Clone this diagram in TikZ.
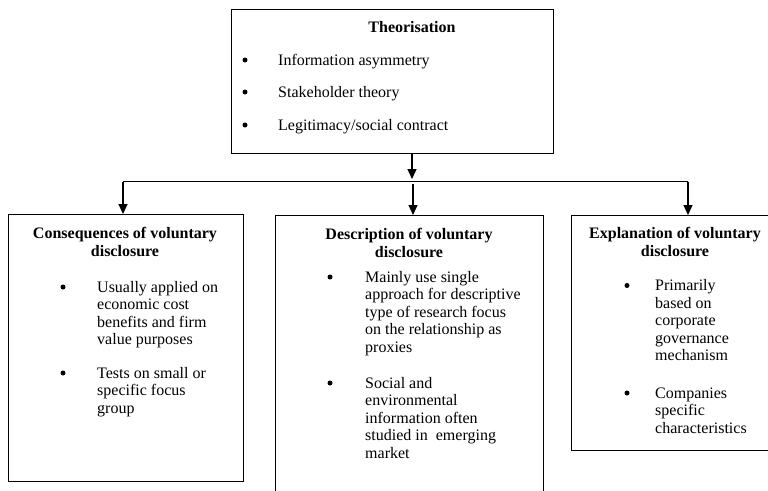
\documentclass[tikz,border=0pt]{standalone}
\usepackage{fontspec}
\setmainfont{Liberation Serif}
\usetikzlibrary{arrows.meta}
\tikzset{
  box/.style={draw, line width=1.3pt, inner sep=0pt, anchor=north west},
  arr/.style={line width=1.2pt, -{Triangle[width=9pt,length=10pt]}},
  bar/.style={line width=1.2pt},
  txt/.style={inner sep=0pt, anchor=base west, font=\fontsize{16}{17.6}\selectfont},
  ttl/.style={inner sep=0pt, anchor=base, font=\fontsize{16}{18.5}\selectfont\bfseries},
  bul/.style={circle, fill, inner sep=0pt, minimum size=5pt, yshift=5pt}
}
\newcommand{\lines}[1]{\parbox[t]{220pt}{\raggedright #1}}
\newcommand{\ttllines}[1]{\begin{tabular}[t]{@{}c@{}}#1\end{tabular}}
\begin{document}
\begin{tikzpicture}[x=1pt,y=-1pt]
\useasboundingbox (0,0) rectangle (768,490);
\clip (0,0) rectangle (768,490);
% boxes
\node[box, minimum width=322pt, minimum height=144pt] (theo) at (231,9) {};
\node[box, minimum width=235pt, minimum height=267pt] (cons) at (7.5,214) {};
\node[box, minimum width=268pt, minimum height=300pt] (desc) at (275,215) {};
\node[box, minimum width=209pt, minimum height=235pt] (expl) at (571,215) {};
% top box text
\node[ttl] (theoT) at (412,32) {Theorisation};
\node[bul] (tb1) at (245,65) {};
\node[txt] (tt1) at (278,65) {Information asymmetry};
\node[bul] (tb2) at (245,97) {};
\node[txt] (tt2) at (278,97) {Stakeholder theory};
\node[bul] (tb3) at (245,130) {};
\node[txt] (tt3) at (278,130) {Legitimacy/social contract};
% left box text
\node[ttl] (consT) at (125,238) {\ttllines{Consequences of voluntary\\disclosure}};
\node[bul] (cb1) at (63,292) {};
\node[txt] (ct1) at (97,292) {\lines{Usually applied on\\economic cost\\benefits and firm\\value purposes}};
\node[bul] (cb2) at (63,378) {};
\node[txt] (ct2) at (97,378) {\lines{Tests on small or\\specific focus\\group}};
% middle box text
\node[ttl] (descT) at (409,239) {\ttllines{Description of voluntary\\disclosure}};
\node[bul] (db1) at (330,282) {};
\node[txt] (dt1) at (365,282) {\lines{Mainly use single\\approach for descriptive\\type of research focus\\on the relationship as\\proxies}};
\node[bul] (db2) at (330,388) {};
\node[txt] (dt2) at (365,388) {\lines{Social and\\environmental\\information often\\studied in\ \ emerging\\market}};
% right box text
\node[ttl] (explT) at (675,238) {\ttllines{Explanation of voluntary\\disclosure}};
\node[bul] (eb1) at (627,290.5) {};
\node[txt] (et1) at (655,290.5) {\lines{Primarily\\based on\\corporate\\governance\\mechanism}};
\node[bul] (eb2) at (627,398) {};
\node[txt] (et2) at (655,398) {\lines{Companies\\specific\\characteristics}};
% connectors
\coordinate (hub) at (412,179);
\coordinate (barL) at (123,181.5);
\coordinate (barR) at (688,181.5);
\coordinate (barM) at (413,184);
\draw[arr] (theo.south -| hub) -- (hub);
\draw[bar] (barL) -- (barR);
\draw[arr] (barL) -- (barL |- cons.north);
\draw[arr] (barM) -- (barM |- desc.north);
\draw[arr] (barR) -- (barR |- expl.north);
\end{tikzpicture}
\end{document}
